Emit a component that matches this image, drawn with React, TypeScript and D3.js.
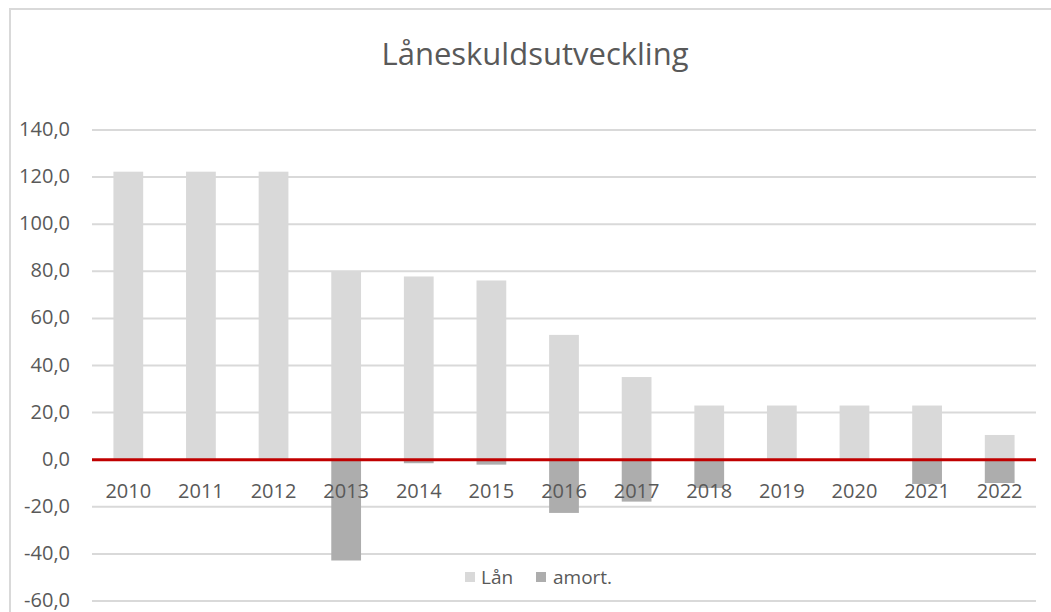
import React from "react";
import * as d3 from "d3";

const years = ["2010", "2011", "2012", "2013", "2014", "2015", "2016", "2017", "2018", "2019", "2020", "2021", "2022"];
const lan = [122.3, 122.3, 122.3, 80.0, 77.8, 76.1, 53.0, 35.1, 23.0, 23.0, 23.0, 23.0, 10.5];
const amort = [0, 0, 0, -42.8, -1.5, -2.1, -22.6, -17.8, -12.0, 0, 0, -10.3, -9.9];
const yTicks = [-60, -40, -20, 0, 20, 40, 60, 80, 100, 120, 140];

const W = 1051;
const H = 612;
const FONT = "'Open Sans', 'Noto Sans', sans-serif";
const TEXT = "#595959";
const LAN_COLOR = "#d9d9d9";
const AMORT_COLOR = "#adadad";

const fmt = (v: number) => v.toFixed(1).replace(".", ",");

export default function App() {
    const x = d3.scaleBand<string>().domain(years).range([92, 1036]).padding(0);
    const y = d3.scaleLinear().domain([-60, 140]).range([601, 130]);
    const barW = x.bandwidth() * 0.41;
    const cx = (yr: string) => (x(yr) ?? 0) + x.bandwidth() / 2;

    const bar = (v: number) => ({
        y: Math.min(y(v), y(0)),
        h: Math.abs(y(v) - y(0)),
    });

    return (
        <svg width={W} height={H} style={{position: "absolute", left: 0, top: 0, background: "#fff"}}>
            {/* chart frame, runs off the right and bottom edges */}
            <rect x={10} y={9} width={W + 50} height={H + 50} fill="#fff" stroke="#d9d9d9" strokeWidth={2} />

            <text x={535} y={65} textAnchor="middle" fontFamily={FONT} fontSize={31} fill={TEXT}>
                Låneskuldsutveckling
            </text>

            {/* gridlines + y labels */}
            {yTicks.map((t) => (
                <g key={t}>
                    {t !== 0 && (
                        <line x1={92} x2={1036} y1={y(t)} y2={y(t)} stroke="#d9d9d9" strokeWidth={2} />
                    )}
                    <text x={70} y={y(t) + 6} textAnchor="end" fontFamily={FONT} fontSize={20} fill={TEXT}>
                        {fmt(t)}
                    </text>
                </g>
            ))}

            {/* Lån bars */}
            {years.map((yr, i) => {
                const b = bar(lan[i]);
                return <rect key={"l" + yr} x={cx(yr) - barW / 2} y={b.y} width={barW} height={b.h} fill={LAN_COLOR} />;
            })}
            {/* amort bars (overlapping) */}
            {years.map((yr, i) => {
                const b = bar(amort[i]);
                if (b.h === 0) return null;
                return <rect key={"a" + yr} x={cx(yr) - barW / 2} y={b.y} width={barW} height={b.h} fill={AMORT_COLOR} />;
            })}

            {/* zero line */}
            <line x1={92} x2={1036} y1={y(0)} y2={y(0)} stroke="#c00000" strokeWidth={3} />

            {/* category labels */}
            {years.map((yr) => (
                <text key={"t" + yr} x={cx(yr)} y={498} textAnchor="middle" fontFamily={FONT} fontSize={20} fill={TEXT}>
                    {yr}
                </text>
            ))}

            {/* legend */}
            <rect x={465} y={572} width={10} height={10} fill={LAN_COLOR} />
            <text x={481} y={584} fontFamily={FONT} fontSize={19} fill={TEXT}>Lån</text>
            <rect x={536} y={572} width={10} height={10} fill={AMORT_COLOR} />
            <text x={553} y={584} fontFamily={FONT} fontSize={19} fill={TEXT}>amort.</text>
        </svg>
    );
}
